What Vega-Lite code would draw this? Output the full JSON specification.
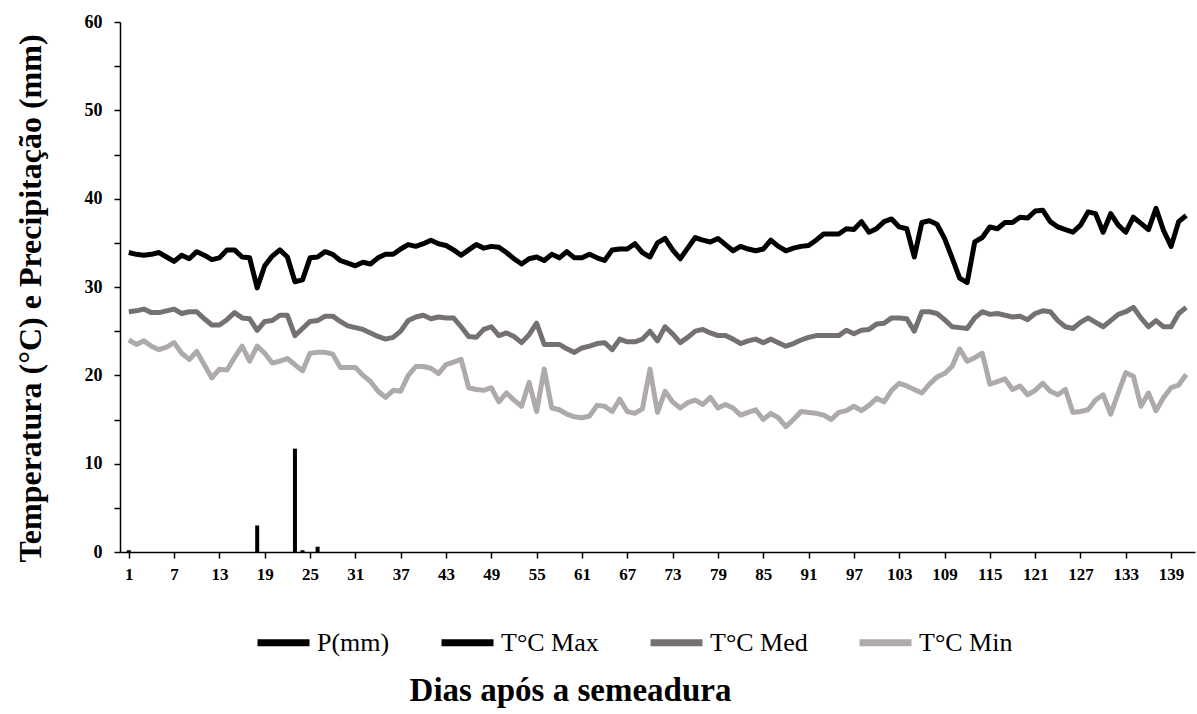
{
 "$schema": "https://vega.github.io/schema/vega-lite/v6.json",
 "width": 1075,
 "height": 530,
 "autosize": {"type": "none"},
 "padding": {"left": 120, "top": 22, "right": 2, "bottom": 162},
 "background": "white",
 "config": {"view": {"stroke": null}, "font": "Liberation Serif",
  "legend": {"orient": "none", "legendX": 134, "legendY": 591, "direction": "horizontal", "title": null,
      "symbolType": "stroke", "symbolSize": 2704, "symbolStrokeWidth": 7, "columnPadding": 37, "labelOffset": 4,
      "labelFont": "Liberation Serif", "labelFontSize": 26, "labelColor": "black", "padding": 0}},
 "data": {"values": [
{"dia":1,"p":0.2,"max":33.9,"med":27.2,"min":24.0},
{"dia":2,"p":0,"max":33.7,"med":27.3,"min":23.5},
{"dia":3,"p":0,"max":33.6,"med":27.5,"min":23.9},
{"dia":4,"p":0,"max":33.7,"med":27.1,"min":23.3},
{"dia":5,"p":0,"max":33.9,"med":27.1,"min":22.9},
{"dia":6,"p":0,"max":33.4,"med":27.3,"min":23.2},
{"dia":7,"p":0,"max":32.9,"med":27.5,"min":23.7},
{"dia":8,"p":0,"max":33.6,"med":27.0,"min":22.5},
{"dia":9,"p":0,"max":33.2,"med":27.2,"min":21.8},
{"dia":10,"p":0,"max":34.0,"med":27.2,"min":22.7},
{"dia":11,"p":0,"max":33.6,"med":26.4,"min":21.2},
{"dia":12,"p":0,"max":33.1,"med":25.7,"min":19.7},
{"dia":13,"p":0,"max":33.3,"med":25.7,"min":20.7},
{"dia":14,"p":0,"max":34.2,"med":26.3,"min":20.6},
{"dia":15,"p":0,"max":34.2,"med":27.1,"min":22.0},
{"dia":16,"p":0,"max":33.4,"med":26.5,"min":23.3},
{"dia":17,"p":0,"max":33.3,"med":26.4,"min":21.6},
{"dia":18,"p":3.0,"max":29.9,"med":25.1,"min":23.3},
{"dia":19,"p":0,"max":32.4,"med":26.1,"min":22.5},
{"dia":20,"p":0,"max":33.5,"med":26.2,"min":21.4},
{"dia":21,"p":0,"max":34.2,"med":26.8,"min":21.6},
{"dia":22,"p":0,"max":33.4,"med":26.8,"min":21.9},
{"dia":23,"p":11.7,"max":30.6,"med":24.5,"min":21.2},
{"dia":24,"p":0.2,"max":30.8,"med":25.3,"min":20.5},
{"dia":25,"p":0,"max":33.3,"med":26.1,"min":22.5},
{"dia":26,"p":0.6,"max":33.4,"med":26.2,"min":22.6},
{"dia":27,"p":0,"max":34.0,"med":26.7,"min":22.6},
{"dia":28,"p":0,"max":33.7,"med":26.7,"min":22.4},
{"dia":29,"p":0,"max":33.0,"med":26.1,"min":20.9},
{"dia":30,"p":0,"max":32.7,"med":25.6,"min":20.9},
{"dia":31,"p":0,"max":32.4,"med":25.4,"min":20.9},
{"dia":32,"p":0,"max":32.8,"med":25.2,"min":20.0},
{"dia":33,"p":0,"max":32.6,"med":24.8,"min":19.3},
{"dia":34,"p":0,"max":33.3,"med":24.4,"min":18.2},
{"dia":35,"p":0,"max":33.7,"med":24.1,"min":17.5},
{"dia":36,"p":0,"max":33.7,"med":24.3,"min":18.3},
{"dia":37,"p":0,"max":34.3,"med":25.0,"min":18.2},
{"dia":38,"p":0,"max":34.8,"med":26.2,"min":20.0},
{"dia":39,"p":0,"max":34.6,"med":26.6,"min":21.0},
{"dia":40,"p":0,"max":34.9,"med":26.8,"min":21.0},
{"dia":41,"p":0,"max":35.3,"med":26.4,"min":20.8},
{"dia":42,"p":0,"max":34.9,"med":26.6,"min":20.2},
{"dia":43,"p":0,"max":34.7,"med":26.5,"min":21.2},
{"dia":44,"p":0,"max":34.2,"med":26.5,"min":21.5},
{"dia":45,"p":0,"max":33.6,"med":25.5,"min":21.8},
{"dia":46,"p":0,"max":34.2,"med":24.4,"min":18.6},
{"dia":47,"p":0,"max":34.8,"med":24.3,"min":18.4},
{"dia":48,"p":0,"max":34.4,"med":25.2,"min":18.3},
{"dia":49,"p":0,"max":34.6,"med":25.5,"min":18.6},
{"dia":50,"p":0,"max":34.5,"med":24.5,"min":17.0},
{"dia":51,"p":0,"max":33.9,"med":24.8,"min":18.0},
{"dia":52,"p":0,"max":33.2,"med":24.4,"min":17.2},
{"dia":53,"p":0,"max":32.6,"med":23.7,"min":16.5},
{"dia":54,"p":0,"max":33.2,"med":24.6,"min":19.2},
{"dia":55,"p":0,"max":33.4,"med":25.9,"min":15.9},
{"dia":56,"p":0,"max":33.0,"med":23.5,"min":20.7},
{"dia":57,"p":0,"max":33.7,"med":23.5,"min":16.3},
{"dia":58,"p":0,"max":33.3,"med":23.5,"min":16.1},
{"dia":59,"p":0,"max":34.0,"med":23.0,"min":15.6},
{"dia":60,"p":0,"max":33.3,"med":22.6,"min":15.3},
{"dia":61,"p":0,"max":33.3,"med":23.1,"min":15.2},
{"dia":62,"p":0,"max":33.7,"med":23.3,"min":15.4},
{"dia":63,"p":0,"max":33.3,"med":23.6,"min":16.6},
{"dia":64,"p":0,"max":33.0,"med":23.7,"min":16.5},
{"dia":65,"p":0,"max":34.2,"med":22.9,"min":15.9},
{"dia":66,"p":0,"max":34.3,"med":24.1,"min":17.3},
{"dia":67,"p":0,"max":34.3,"med":23.8,"min":15.9},
{"dia":68,"p":0,"max":34.9,"med":23.8,"min":15.7},
{"dia":69,"p":0,"max":33.9,"med":24.1,"min":16.2},
{"dia":70,"p":0,"max":33.4,"med":25.0,"min":20.7},
{"dia":71,"p":0,"max":35.0,"med":23.9,"min":15.8},
{"dia":72,"p":0,"max":35.5,"med":25.5,"min":18.2},
{"dia":73,"p":0,"max":34.2,"med":24.7,"min":17.0},
{"dia":74,"p":0,"max":33.2,"med":23.7,"min":16.3},
{"dia":75,"p":0,"max":34.4,"med":24.3,"min":16.9},
{"dia":76,"p":0,"max":35.6,"med":25.0,"min":17.2},
{"dia":77,"p":0,"max":35.3,"med":25.2,"min":16.7},
{"dia":78,"p":0,"max":35.1,"med":24.8,"min":17.5},
{"dia":79,"p":0,"max":35.5,"med":24.5,"min":16.3},
{"dia":80,"p":0,"max":34.8,"med":24.5,"min":16.7},
{"dia":81,"p":0,"max":34.1,"med":24.1,"min":16.3},
{"dia":82,"p":0,"max":34.6,"med":23.6,"min":15.5},
{"dia":83,"p":0,"max":34.3,"med":23.9,"min":15.8},
{"dia":84,"p":0,"max":34.1,"med":24.1,"min":16.1},
{"dia":85,"p":0,"max":34.3,"med":23.7,"min":15.0},
{"dia":86,"p":0,"max":35.3,"med":24.1,"min":15.7},
{"dia":87,"p":0,"max":34.6,"med":23.7,"min":15.2},
{"dia":88,"p":0,"max":34.1,"med":23.3,"min":14.2},
{"dia":89,"p":0,"max":34.4,"med":23.6,"min":15.0},
{"dia":90,"p":0,"max":34.6,"med":24.0,"min":15.9},
{"dia":91,"p":0,"max":34.7,"med":24.3,"min":15.8},
{"dia":92,"p":0,"max":35.3,"med":24.5,"min":15.7},
{"dia":93,"p":0,"max":36.0,"med":24.5,"min":15.5},
{"dia":94,"p":0,"max":36.0,"med":24.5,"min":15.0},
{"dia":95,"p":0,"max":36.0,"med":24.5,"min":15.8},
{"dia":96,"p":0,"max":36.6,"med":25.1,"min":16.0},
{"dia":97,"p":0,"max":36.5,"med":24.7,"min":16.5},
{"dia":98,"p":0,"max":37.4,"med":25.1,"min":16.0},
{"dia":99,"p":0,"max":36.2,"med":25.2,"min":16.6},
{"dia":100,"p":0,"max":36.6,"med":25.8,"min":17.4},
{"dia":101,"p":0,"max":37.4,"med":25.9,"min":17.0},
{"dia":102,"p":0,"max":37.7,"med":26.5,"min":18.3},
{"dia":103,"p":0,"max":36.8,"med":26.5,"min":19.1},
{"dia":104,"p":0,"max":36.6,"med":26.4,"min":18.8},
{"dia":105,"p":0,"max":33.4,"med":25.0,"min":18.4},
{"dia":106,"p":0,"max":37.3,"med":27.2,"min":18.0},
{"dia":107,"p":0,"max":37.5,"med":27.2,"min":19.0},
{"dia":108,"p":0,"max":37.1,"med":27.0,"min":19.8},
{"dia":109,"p":0,"max":35.5,"med":26.3,"min":20.2},
{"dia":110,"p":0,"max":33.3,"med":25.5,"min":21.0},
{"dia":111,"p":0,"max":31.0,"med":25.4,"min":23.0},
{"dia":112,"p":0,"max":30.5,"med":25.3,"min":21.6},
{"dia":113,"p":0,"max":35.1,"med":26.5,"min":22.0},
{"dia":114,"p":0,"max":35.6,"med":27.2,"min":22.5},
{"dia":115,"p":0,"max":36.8,"med":26.9,"min":19.0},
{"dia":116,"p":0,"max":36.6,"med":27.0,"min":19.3},
{"dia":117,"p":0,"max":37.3,"med":26.8,"min":19.6},
{"dia":118,"p":0,"max":37.3,"med":26.6,"min":18.4},
{"dia":119,"p":0,"max":37.9,"med":26.7,"min":18.8},
{"dia":120,"p":0,"max":37.8,"med":26.3,"min":17.8},
{"dia":121,"p":0,"max":38.6,"med":27.0,"min":18.3},
{"dia":122,"p":0,"max":38.7,"med":27.3,"min":19.1},
{"dia":123,"p":0,"max":37.4,"med":27.2,"min":18.2},
{"dia":124,"p":0,"max":36.8,"med":26.2,"min":17.8},
{"dia":125,"p":0,"max":36.5,"med":25.5,"min":18.4},
{"dia":126,"p":0,"max":36.2,"med":25.3,"min":15.8},
{"dia":127,"p":0,"max":37.0,"med":26.0,"min":15.9},
{"dia":128,"p":0,"max":38.5,"med":26.5,"min":16.1},
{"dia":129,"p":0,"max":38.3,"med":26.0,"min":17.2},
{"dia":130,"p":0,"max":36.2,"med":25.5,"min":17.8},
{"dia":131,"p":0,"max":38.3,"med":26.2,"min":15.6},
{"dia":132,"p":0,"max":37.0,"med":26.9,"min":18.0},
{"dia":133,"p":0,"max":36.2,"med":27.2,"min":20.3},
{"dia":134,"p":0,"max":37.9,"med":27.7,"min":19.9},
{"dia":135,"p":0,"max":37.2,"med":26.5,"min":16.5},
{"dia":136,"p":0,"max":36.5,"med":25.5,"min":18.0},
{"dia":137,"p":0,"max":38.9,"med":26.2,"min":16.0},
{"dia":138,"p":0,"max":36.4,"med":25.5,"min":17.5},
{"dia":139,"p":0,"max":34.6,"med":25.5,"min":18.6},
{"dia":140,"p":0,"max":37.4,"med":27.0,"min":18.9},
{"dia":141,"p":0,"max":38.1,"med":27.7,"min":20.1}
 ]},
 "layer": [
  {
   "mark": {"type": "bar", "width": 4, "color": "black"},
   "encoding": {
    "x": {"field": "dia", "type": "quantitative",
     "scale": {"domain": [0.5, 141.5], "nice": false, "zero": false},
     "axis": {"values": [1,4,7,10,13,16,19,22,25,28,31,34,37,40,43,46,49,52,55,58,61,64,67,70,73,76,79,82,85,88,91,94,97,100,103,106,109,112,115,118,121,124,127,130,133,136,139],
      "labelExpr": "(datum.value - 1) % 6 == 0 ? datum.label : ''",
      "grid": false, "tickSize": 6, "tickWidth": 1.5, "tickColor": "black", "domainColor": "black", "domainWidth": 1.5,
      "labelFont": "Liberation Serif", "labelFontSize": 17, "labelFontWeight": "bold", "labelColor": "black", "labelPadding": 8,
      "labelOverlap": false, "labelFlush": false,
      "title": "Dias após a semeadura", "titleFont": "Liberation Serif", "titleFontSize": 33, "titleFontWeight": "bold", "titleColor": "black",
      "titleX": 450, "titleY": 138, "titleBaseline": "middle"}},
    "y": {"field": "p", "type": "quantitative",
     "scale": {"domain": [0, 60], "nice": false},
     "axis": {"values": [0,5,10,15,20,25,30,35,40,45,50,55,60],
      "labelExpr": "datum.value % 10 == 0 ? datum.label : ''",
      "grid": false, "tickSize": 6, "tickWidth": 1.5, "tickColor": "black", "domainColor": "black", "domainWidth": 1.5,
      "labelFont": "Liberation Serif", "labelFontSize": 18, "labelFontWeight": "bold", "labelColor": "black", "labelPadding": 12,
      "title": "Temperatura (°C) e Precipitação (mm)", "titleFont": "Liberation Serif", "titleFontSize": 32, "titleFontWeight": "bold", "titleColor": "black",
      "titleAngle": 270, "titleX": -90, "titleY": 276, "titleAlign": "center", "titleBaseline": "middle"}},
    "color": {"datum": "p",
     "scale": {"domain": ["p", "max", "med", "min"], "range": ["#000000", "#000000", "#767171", "#AEAAAA"]},
     "legend": {"title": null,
      "labelExpr": "datum.label == 'p' ? 'P(mm)' : datum.label == 'max' ? 'T°C Max' : datum.label == 'med' ? 'T°C Med' : 'T°C Min'"}}
   }
  },
  {
   "transform": [{"fold": ["max", "med", "min"], "as": ["serie", "valor"]}],
   "mark": {"type": "line", "strokeWidth": 5, "strokeJoin": "round"},
   "encoding": {
    "x": {"field": "dia", "type": "quantitative"},
    "y": {"field": "valor", "type": "quantitative", "axis": {"title": "Temperatura (°C) e Precipitação (mm)"}},
    "color": {"field": "serie", "type": "nominal",
     "legend": {"title": null,
      "labelExpr": "datum.label == 'p' ? 'P(mm)' : datum.label == 'max' ? 'T°C Max' : datum.label == 'med' ? 'T°C Med' : 'T°C Min'"}}
   }
  }
 ]
}
